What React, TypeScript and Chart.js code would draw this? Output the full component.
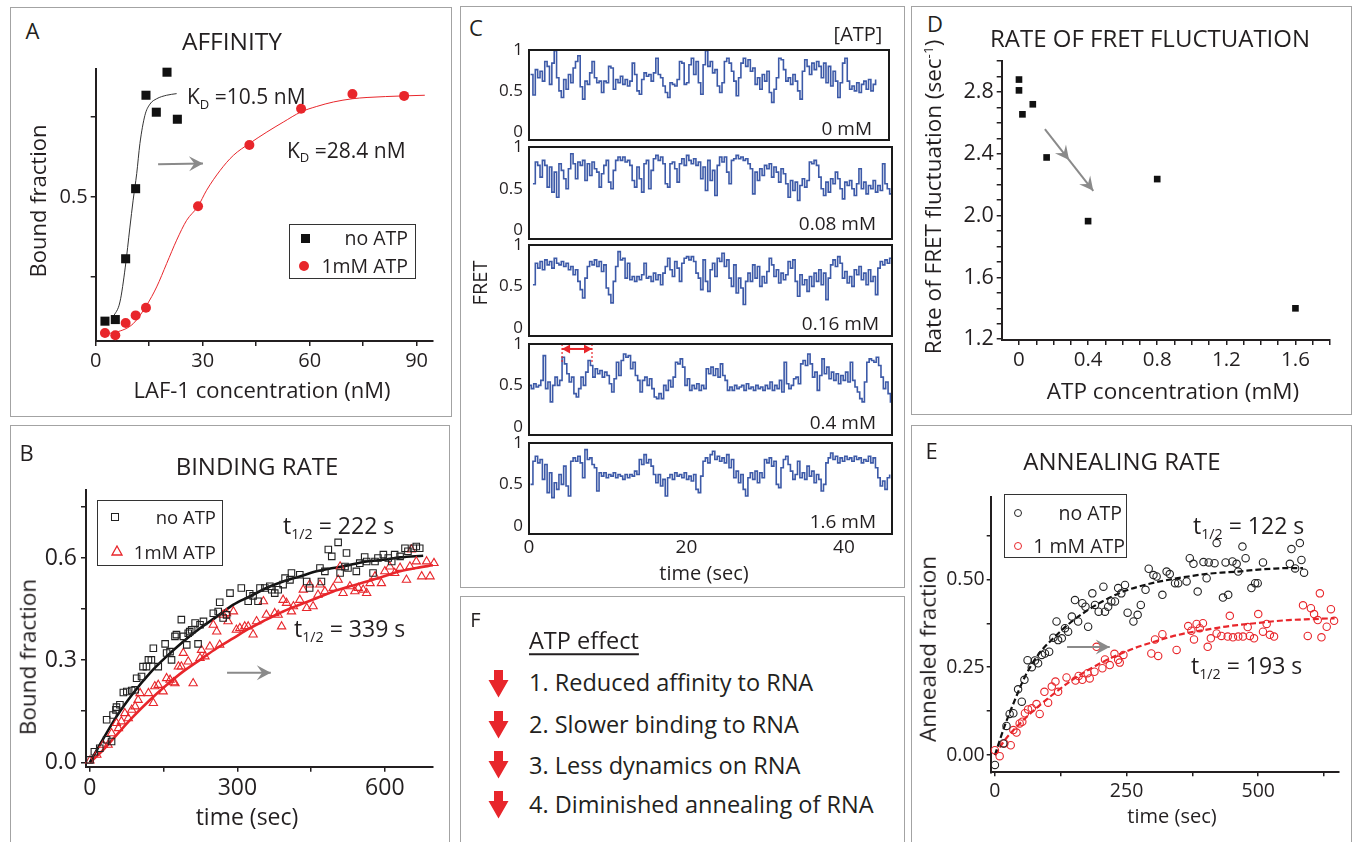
import React, { useEffect, useRef } from "react";
import { Chart, registerables } from "chart.js";
Chart.register(...registerables);

const FONT = "'Open Sans', 'DejaVu Sans', sans-serif";
const INK = "#231f20";
const RED = "#e8262b";
const BLUE = "#3d5aa8";
const GRAY = "#8a8a8a";

// ---------- Panel A : affinity ----------
const A_NOATP_X = [2.6, 5.5, 8.4, 11.2, 14.1, 17.0, 20.0, 22.9];
const A_NOATP_Y = [0.112, 0.117, 0.307, 0.526, 0.818, 0.765, 0.89, 0.743];
const A_ATP_X = [2.6, 5.5, 8.4, 11.2, 14.1, 28.7, 43.1, 57.6, 72.0, 86.5];
const A_ATP_Y = [0.075, 0.068, 0.106, 0.13, 0.154, 0.471, 0.6625, 0.776, 0.822, 0.816];
const A_FIT_NOATP_X = [4.9, 6.8, 8.3, 9.6, 10.5, 11.5, 12.4, 13.8, 15.2, 17.1, 19.9, 22.7];
const A_FIT_NOATP_Y = [0.125, 0.172, 0.281, 0.406, 0.49, 0.573, 0.667, 0.755, 0.79, 0.807, 0.818, 0.823];
const A_FIT_ATP_X = [2.6, 5.9, 10.5, 14.3, 17.1, 19.9, 22.7, 25.5, 28.7, 31.1, 34.9, 38.6, 43.1, 48.0, 52.6, 57.6, 62.0, 66.7, 72.0, 76.1, 86.5, 92.3];
const A_FIT_ATP_Y = [0.073, 0.078, 0.104, 0.162, 0.219, 0.292, 0.365, 0.427, 0.471, 0.521, 0.583, 0.63, 0.667, 0.703, 0.734, 0.766, 0.783, 0.797, 0.807, 0.811, 0.816, 0.818];
const A_X_TICKS = [0, 15, 30, 45, 60, 75, 90];
const A_X_LABELS = [0, 30, 60, 90];
const A_Y_TICKS = [0.25, 0.5, 0.75];
const A_Y_LABELS = [0.5];

// ---------- Panel B : binding rate ----------
const B_NOATP_X = [0, 9, 20, 34, 44, 34, 47, 53, 54, 61, 68, 75, 85, 92, 95, 105, 108, 115, 119, 125, 129, 139, 153, 156, 163, 166, 173, 176, 186, 190, 197, 200, 203, 207, 214, 220, 224, 231, 251, 261, 264, 271, 278, 285, 308, 322, 325, 332, 342, 346, 356, 366, 370, 376, 383, 393, 397, 407, 410, 427, 441, 447, 468, 471, 478, 485, 492, 505, 522, 509, 519, 525, 542, 549, 559, 563, 576, 580, 586, 597, 607, 614, 620, 631, 641, 647, 658, 664, 671];
const B_NOATP_Y = [0.007, 0.031, 0.041, 0.066, 0.061, 0.125, 0.139, 0.154, 0.162, 0.169, 0.205, 0.208, 0.211, 0.213, 0.247, 0.252, 0.281, 0.281, 0.301, 0.301, 0.335, 0.281, 0.348, 0.321, 0.325, 0.301, 0.37, 0.375, 0.419, 0.37, 0.345, 0.379, 0.384, 0.389, 0.409, 0.348, 0.404, 0.414, 0.438, 0.443, 0.47, 0.424, 0.433, 0.497, 0.512, 0.473, 0.495, 0.489, 0.473, 0.512, 0.512, 0.517, 0.507, 0.497, 0.507, 0.522, 0.541, 0.536, 0.556, 0.551, 0.531, 0.512, 0.571, 0.531, 0.561, 0.625, 0.605, 0.646, 0.615, 0.556, 0.575, 0.571, 0.561, 0.585, 0.603, 0.59, 0.556, 0.59, 0.6, 0.61, 0.6, 0.59, 0.61, 0.605, 0.629, 0.62, 0.629, 0.634, 0.629];
const B_ATP_X = [0, 14, 27, 37, 44, 54, 58, 64, 71, 78, 85, 92, 98, 102, 119, 129, 132, 139, 149, 156, 163, 170, 173, 180, 186, 190, 200, 210, 224, 227, 234, 244, 251, 258, 264, 271, 278, 281, 292, 298, 305, 315, 322, 332, 339, 353, 359, 376, 383, 390, 393, 400, 410, 414, 427, 434, 441, 447, 454, 464, 468, 478, 495, 505, 509, 515, 529, 539, 546, 556, 563, 570, 580, 593, 600, 610, 620, 631, 644, 651, 654, 664, 675, 685, 692, 700];
const B_ATP_Y = [0.005, 0.022, 0.051, 0.051, 0.085, 0.115, 0.1, 0.12, 0.144, 0.129, 0.154, 0.164, 0.183, 0.203, 0.203, 0.174, 0.223, 0.227, 0.208, 0.247, 0.242, 0.235, 0.232, 0.281, 0.281, 0.321, 0.296, 0.232, 0.306, 0.33, 0.311, 0.34, 0.404, 0.384, 0.345, 0.433, 0.438, 0.414, 0.443, 0.389, 0.394, 0.399, 0.399, 0.375, 0.414, 0.473, 0.433, 0.438, 0.433, 0.399, 0.477, 0.468, 0.443, 0.458, 0.477, 0.507, 0.453, 0.522, 0.458, 0.492, 0.522, 0.502, 0.512, 0.536, 0.575, 0.497, 0.517, 0.502, 0.512, 0.507, 0.497, 0.526, 0.546, 0.526, 0.561, 0.575, 0.556, 0.571, 0.536, 0.575, 0.625, 0.59, 0.546, 0.59, 0.546, 0.585];
const B_FIT_NOATP_X = [0, 20, 54, 88, 122, 156, 190, 224, 258, 292, 325, 359, 393, 427, 461, 495, 529, 563, 597, 631, 678];
const B_FIT_NOATP_Y = [0, 0.051, 0.134, 0.203, 0.262, 0.311, 0.355, 0.394, 0.428, 0.463, 0.487, 0.512, 0.531, 0.546, 0.561, 0.571, 0.58, 0.59, 0.595, 0.602, 0.607];
const B_FIT_ATP_X = [0, 20, 54, 88, 122, 156, 190, 224, 258, 292, 325, 359, 393, 427, 461, 495, 529, 563, 597, 631, 664, 698];
const B_FIT_ATP_Y = [0, 0.026, 0.08, 0.134, 0.183, 0.227, 0.267, 0.301, 0.335, 0.365, 0.394, 0.419, 0.443, 0.463, 0.482, 0.502, 0.517, 0.531, 0.546, 0.561, 0.571, 0.579];
const B_X_TICKS = [0, 150, 300, 450, 600];
const B_X_LABELS = [0, 300, 600];
const B_Y_TICKS = [0, 0.15, 0.3, 0.45, 0.6, 0.75];
const B_Y_LABELS = [0, 0.3, 0.6];

// ---------- Panel C : FRET traces ----------
const C_LABELS = ["0 mM", "0.08 mM", "0.16 mM", "0.4 mM", "1.6 mM"];
const C_T0 = [0.2, 0.5, 0.5, 0.0, 0.2];
const C_DT = 0.3;
const C_XMAX = [45.7, 46.1, 46.1, 46.1, 46.1];
const C_Y_TICKS = [0, 0.5, 1];
const C_X_TICKS = [0, 20, 40];
const TRACE_0 = [0.70, 0.45, 0.76, 0.66, 0.74, 0.62, 0.86, 0.80, 0.58, 0.84, 0.99, 0.66, 0.50, 0.42, 0.64, 0.52, 0.70, 0.60, 0.78, 0.86, 0.93, 0.55, 0.40, 0.62, 0.58, 0.72, 0.86, 0.66, 0.60, 0.62, 0.48, 0.62, 0.60, 0.80, 0.78, 0.52, 0.64, 0.60, 0.68, 0.58, 0.64, 0.56, 0.62, 0.84, 0.70, 0.50, 0.46, 0.64, 0.72, 0.68, 0.70, 0.62, 0.72, 0.90, 0.70, 0.66, 0.56, 0.48, 0.42, 0.60, 0.58, 0.56, 0.64, 0.86, 0.84, 0.58, 0.60, 0.82, 0.90, 0.70, 0.86, 0.60, 0.46, 0.82, 0.99, 0.80, 0.86, 0.72, 0.76, 0.56, 0.48, 0.60, 0.86, 0.90, 0.84, 0.74, 0.62, 0.44, 0.66, 0.84, 0.90, 0.80, 0.88, 0.74, 0.78, 0.58, 0.66, 0.52, 0.70, 0.62, 0.74, 0.48, 0.36, 0.52, 0.66, 0.90, 0.88, 0.76, 0.62, 0.66, 0.58, 0.70, 0.62, 0.50, 0.40, 0.74, 0.88, 0.80, 0.70, 0.84, 0.76, 0.86, 0.80, 0.66, 0.84, 0.60, 0.80, 0.56, 0.74, 0.62, 0.42, 0.60, 0.84, 0.90, 0.62, 0.52, 0.56, 0.50, 0.60, 0.48, 0.58, 0.62, 0.52, 0.64, 0.50, 0.58, 0.64];
const TRACE_008 = [0.56, 0.82, 0.78, 0.64, 0.84, 0.78, 0.52, 0.76, 0.46, 0.70, 0.40, 0.80, 0.72, 0.62, 0.50, 0.74, 0.92, 0.80, 0.62, 0.82, 0.78, 0.84, 0.60, 0.80, 0.66, 0.82, 0.74, 0.70, 0.52, 0.68, 0.78, 0.84, 0.58, 0.50, 0.72, 0.84, 0.88, 0.84, 0.88, 0.82, 0.84, 0.78, 0.60, 0.52, 0.76, 0.62, 0.46, 0.80, 0.84, 0.50, 0.72, 0.86, 0.90, 0.84, 0.88, 0.80, 0.56, 0.52, 0.80, 0.82, 0.74, 0.58, 0.80, 0.86, 0.78, 0.90, 0.84, 0.80, 0.86, 0.78, 0.82, 0.62, 0.76, 0.48, 0.84, 0.60, 0.72, 0.42, 0.78, 0.88, 0.82, 0.88, 0.70, 0.56, 0.84, 0.86, 0.90, 0.86, 0.88, 0.84, 0.86, 0.80, 0.74, 0.44, 0.70, 0.60, 0.74, 0.66, 0.78, 0.74, 0.80, 0.64, 0.76, 0.70, 0.58, 0.74, 0.68, 0.56, 0.40, 0.60, 0.48, 0.58, 0.36, 0.54, 0.62, 0.52, 0.60, 0.82, 0.80, 0.84, 0.78, 0.64, 0.50, 0.42, 0.58, 0.46, 0.62, 0.56, 0.70, 0.62, 0.50, 0.38, 0.58, 0.54, 0.60, 0.50, 0.42, 0.56, 0.74, 0.50, 0.58, 0.44, 0.54, 0.50, 0.60, 0.46, 0.54, 0.48, 0.80, 0.56, 0.50, 0.44, 0.52, 0.42, 0.62];
const TRACE_016 = [0.52, 0.78, 0.72, 0.80, 0.70, 0.82, 0.76, 0.80, 0.72, 0.84, 0.78, 0.76, 0.80, 0.74, 0.78, 0.70, 0.74, 0.64, 0.70, 0.56, 0.46, 0.36, 0.60, 0.74, 0.80, 0.76, 0.82, 0.74, 0.80, 0.68, 0.76, 0.48, 0.40, 0.30, 0.56, 0.74, 0.92, 0.82, 0.84, 0.60, 0.78, 0.58, 0.62, 0.56, 0.62, 0.58, 0.64, 0.78, 0.60, 0.62, 0.56, 0.66, 0.58, 0.64, 0.52, 0.66, 0.74, 0.84, 0.70, 0.62, 0.80, 0.72, 0.56, 0.78, 0.84, 0.86, 0.82, 0.86, 0.80, 0.66, 0.60, 0.46, 0.82, 0.56, 0.44, 0.70, 0.78, 0.62, 0.84, 0.80, 0.90, 0.74, 0.82, 0.60, 0.50, 0.76, 0.42, 0.60, 0.48, 0.28, 0.56, 0.66, 0.56, 0.76, 0.60, 0.74, 0.50, 0.62, 0.54, 0.68, 0.84, 0.76, 0.62, 0.70, 0.54, 0.66, 0.58, 0.64, 0.80, 0.72, 0.82, 0.56, 0.38, 0.64, 0.52, 0.58, 0.44, 0.62, 0.50, 0.66, 0.56, 0.70, 0.52, 0.66, 0.34, 0.60, 0.76, 0.82, 0.74, 0.86, 0.78, 0.60, 0.68, 0.54, 0.62, 0.50, 0.70, 0.64, 0.74, 0.58, 0.66, 0.52, 0.70, 0.56, 0.62, 0.40, 0.72, 0.80, 0.76, 0.82, 0.78, 0.84, 0.82];
const TRACE_04 = [0.50, 0.46, 0.52, 0.48, 0.50, 0.56, 0.86, 0.46, 0.54, 0.30, 0.50, 0.60, 0.50, 0.56, 0.84, 0.76, 0.64, 0.54, 0.60, 0.40, 0.36, 0.46, 0.60, 0.50, 0.66, 0.80, 0.74, 0.60, 0.70, 0.64, 0.68, 0.60, 0.66, 0.62, 0.52, 0.42, 0.58, 0.78, 0.62, 0.80, 0.88, 0.84, 0.86, 0.70, 0.78, 0.62, 0.56, 0.42, 0.56, 0.60, 0.50, 0.58, 0.46, 0.36, 0.34, 0.40, 0.34, 0.50, 0.44, 0.56, 0.48, 0.60, 0.78, 0.76, 0.82, 0.72, 0.50, 0.58, 0.44, 0.50, 0.46, 0.52, 0.44, 0.50, 0.46, 0.70, 0.64, 0.72, 0.62, 0.70, 0.60, 0.76, 0.62, 0.56, 0.44, 0.48, 0.44, 0.50, 0.46, 0.48, 0.50, 0.44, 0.52, 0.46, 0.48, 0.44, 0.50, 0.46, 0.48, 0.44, 0.50, 0.46, 0.54, 0.44, 0.50, 0.46, 0.56, 0.42, 0.78, 0.52, 0.46, 0.50, 0.58, 0.60, 0.52, 0.76, 0.80, 0.74, 0.88, 0.76, 0.60, 0.66, 0.44, 0.62, 0.82, 0.64, 0.72, 0.58, 0.66, 0.56, 0.64, 0.52, 0.62, 0.56, 0.66, 0.54, 0.78, 0.56, 0.48, 0.42, 0.34, 0.30, 0.54, 0.78, 0.82, 0.80, 0.78, 0.84, 0.74, 0.60, 0.46, 0.54, 0.40, 0.30, 0.48];
const TRACE_16 = [0.50, 0.78, 0.84, 0.76, 0.80, 0.56, 0.74, 0.40, 0.64, 0.34, 0.52, 0.44, 0.62, 0.50, 0.72, 0.48, 0.36, 0.78, 0.82, 0.78, 0.84, 0.76, 0.58, 0.92, 0.80, 0.82, 0.74, 0.70, 0.42, 0.64, 0.60, 0.64, 0.58, 0.62, 0.60, 0.64, 0.58, 0.62, 0.60, 0.56, 0.62, 0.58, 0.62, 0.60, 0.66, 0.62, 0.80, 0.74, 0.86, 0.76, 0.80, 0.72, 0.62, 0.52, 0.62, 0.48, 0.56, 0.36, 0.58, 0.62, 0.56, 0.64, 0.60, 0.62, 0.58, 0.64, 0.56, 0.60, 0.54, 0.62, 0.44, 0.40, 0.60, 0.78, 0.82, 0.76, 0.86, 0.90, 0.80, 0.84, 0.78, 0.82, 0.76, 0.86, 0.70, 0.80, 0.58, 0.66, 0.52, 0.62, 0.44, 0.36, 0.58, 0.64, 0.56, 0.66, 0.52, 0.64, 0.58, 0.80, 0.76, 0.82, 0.72, 0.78, 0.50, 0.46, 0.70, 0.80, 0.84, 0.74, 0.66, 0.56, 0.62, 0.78, 0.58, 0.64, 0.56, 0.72, 0.60, 0.66, 0.52, 0.62, 0.56, 0.42, 0.50, 0.76, 0.82, 0.88, 0.80, 0.84, 0.76, 0.82, 0.78, 0.84, 0.80, 0.82, 0.78, 0.84, 0.80, 0.82, 0.76, 0.80, 0.78, 0.84, 0.76, 0.82, 0.70, 0.58, 0.48, 0.54, 0.44, 0.58, 0.62];
const TRACES = [TRACE_0, TRACE_008, TRACE_016, TRACE_04, TRACE_16];

// ---------- Panel D : rate of FRET fluctuation ----------
const D_X = [0, 0, 0.02, 0.08, 0.16, 0.4, 0.8, 1.6];
const D_Y = [2.88, 2.81, 2.655, 2.72, 2.376, 1.964, 2.236, 1.4];
const D_X_TICKS = [0, 0.1, 0.2, 0.3, 0.4, 0.5, 0.6, 0.7, 0.8, 0.9, 1.0, 1.1, 1.2, 1.3, 1.4, 1.5, 1.6, 1.7, 1.8];
const D_X_LABELS = [0, 0.4, 0.8, 1.2, 1.6];
const D_Y_TICKS = [1.2, 1.3, 1.4, 1.5, 1.6, 1.7, 1.8, 1.9, 2.0, 2.1, 2.2, 2.3, 2.4, 2.5, 2.6, 2.7, 2.8, 2.9, 3.0];
const D_Y_LABELS = [1.2, 1.6, 2.0, 2.4, 2.8];

// ---------- Panel E : annealing rate ----------
const E_NOATP_X = [0, 16, 22, 28, 35, 44, 51, 56, 62, 70, 76, 82, 89, 95, 103, 111, 117, 120, 127, 133, 139, 146, 152, 158, 166, 172, 177, 185, 190, 197, 206, 209, 215, 221, 228, 234, 240, 247, 252, 263, 271, 277, 286, 292, 301, 307, 318, 326, 332, 342, 348, 364, 370, 377, 385, 396, 402, 406, 417, 421, 438, 433, 443, 451, 459, 462, 470, 476, 487, 494, 499, 509, 560, 563, 570, 579, 582, 587];
const E_NOATP_Y = [-0.028, 0.033, 0.083, 0.117, 0.119, 0.187, 0.152, 0.214, 0.27, 0.25, 0.269, 0.261, 0.285, 0.289, 0.294, 0.334, 0.38, 0.327, 0.332, 0.361, 0.351, 0.394, 0.441, 0.38, 0.432, 0.422, 0.365, 0.46, 0.427, 0.408, 0.479, 0.408, 0.422, 0.437, 0.437, 0.475, 0.46, 0.484, 0.405, 0.38, 0.399, 0.427, 0.47, 0.53, 0.512, 0.508, 0.456, 0.522, 0.515, 0.489, 0.489, 0.494, 0.56, 0.544, 0.465, 0.549, 0.503, 0.548, 0.546, 0.603, 0.548, 0.448, 0.456, 0.551, 0.544, 0.522, 0.593, 0.56, 0.475, 0.489, 0.489, 0.548, 0.544, 0.586, 0.531, 0.603, 0.555, 0.519];
const E_ATP_X = [0, 9, 18, 30, 35, 41, 47, 52, 57, 63, 70, 79, 85, 94, 101, 108, 115, 120, 136, 153, 159, 166, 176, 180, 189, 193, 204, 209, 218, 227, 234, 237, 244, 297, 304, 310, 318, 345, 367, 373, 378, 383, 389, 395, 404, 410, 421, 430, 442, 446, 452, 462, 471, 480, 484, 492, 500, 509, 516, 522, 530, 585, 594, 600, 606, 613, 617, 620, 630, 638, 644];
const E_ATP_Y = [0.014, -0.003, 0.033, 0.028, 0.071, 0.064, 0.09, 0.095, 0.119, 0.13, 0.133, 0.145, 0.117, 0.18, 0.149, 0.195, 0.209, 0.18, 0.221, 0.212, 0.225, 0.214, 0.233, 0.218, 0.237, 0.308, 0.247, 0.272, 0.256, 0.288, 0.271, 0.263, 0.285, 0.289, 0.329, 0.282, 0.344, 0.299, 0.367, 0.354, 0.329, 0.373, 0.361, 0.375, 0.308, 0.332, 0.346, 0.339, 0.337, 0.396, 0.335, 0.337, 0.337, 0.364, 0.339, 0.332, 0.401, 0.351, 0.373, 0.342, 0.337, 0.426, 0.339, 0.418, 0.401, 0.384, 0.46, 0.335, 0.365, 0.415, 0.382];
const E_FIT_NOATP_X = [0, 19, 38, 57, 82, 114, 146, 177, 209, 240, 272, 304, 335, 367, 399, 430, 462, 494, 525, 557, 585];
const E_FIT_NOATP_Y = [0, 0.085, 0.157, 0.223, 0.285, 0.337, 0.38, 0.413, 0.441, 0.463, 0.479, 0.491, 0.5, 0.508, 0.515, 0.519, 0.522, 0.527, 0.53, 0.532, 0.532];
const E_FIT_ATP_X = [0, 19, 51, 82, 114, 146, 177, 209, 240, 272, 304, 335, 367, 399, 430, 462, 494, 525, 557, 589, 620, 645];
const E_FIT_ATP_Y = [0, 0.043, 0.095, 0.138, 0.177, 0.213, 0.242, 0.268, 0.289, 0.308, 0.323, 0.337, 0.348, 0.356, 0.364, 0.37, 0.375, 0.38, 0.384, 0.386, 0.388, 0.389];
const E_X_TICKS = [0, 125, 250, 375, 500, 625];
const E_X_LABELS = [0, 250, 500];
const E_Y_TICKS = [0, 0.125, 0.25, 0.375, 0.5, 0.625];
const E_Y_LABELS = [0, 0.25, 0.5];

// ---------- Panel F ----------
const F_ITEMS = ["1. Reduced affinity to RNA", "2. Slower binding to RNA", "3. Less dynamics on RNA", "4. Diminished annealing of RNA"];

// ---------- helpers ----------
const pts = (xs: number[], ys: number[]) => xs.map((x, i) => ({ x, y: ys[i] }));
const tracePts = (t0: number, dt: number, vals: number[]) => vals.map((v, i) => ({ x: t0 + dt * i, y: v }));
const near = (v: number, list: number[]) => list.some((t) => Math.abs(v - t) < 1e-6);

type AxisP = {
  min: number; max: number; ticks: number[]; labels: number[]; fmt: (v: number) => string;
  size: number; fit: number; vertical: boolean; tickLen?: number; pad?: number; marks?: boolean; line?: boolean; display?: boolean;
};
function axis(p: AxisP) {
  const marks = p.marks !== false;
  const shown = p.display !== false;
  return {
    type: "linear",
    display: shown,
    min: p.min,
    max: p.max,
    afterBuildTicks: (s: any) => { s.ticks = p.ticks.map((v) => ({ value: v })); },
    afterFit: (s: any) => {
      if (!shown) return;
      if (p.vertical) s.width = p.fit; else s.height = p.fit;
    },
    ticks: {
      autoSkip: false, maxRotation: 0, minRotation: 0, padding: p.pad ?? 3, color: INK,
      font: { family: FONT, size: p.size },
      callback: (v: number) => (near(v, p.labels) ? p.fmt(v) : ""),
    },
    grid: { display: marks, drawOnChartArea: false, drawTicks: marks, tickLength: p.tickLen ?? 5, color: INK, lineWidth: 1.5 },
    border: { display: p.line !== false, color: INK, width: 2 },
  };
}

type Arrow = {
  from: [number, number]; to: [number, number]; color: string; width: number;
  heads?: { t: number; dir: number }[]; len?: number; half?: number; notch?: number; dash?: number[];
};
function arrowPlugin(items: Arrow[]) {
  return {
    id: "arrows",
    afterDatasetsDraw(chart: any) {
      const xs = chart.scales.x, ys = chart.scales.y, ctx = chart.ctx;
      for (const a of items) {
        const x1 = xs.getPixelForValue(a.from[0]), y1 = ys.getPixelForValue(a.from[1]);
        const x2 = xs.getPixelForValue(a.to[0]), y2 = ys.getPixelForValue(a.to[1]);
        ctx.save();
        ctx.strokeStyle = a.color; ctx.fillStyle = a.color; ctx.lineWidth = a.width;
        ctx.setLineDash(a.dash || []);
        ctx.beginPath(); ctx.moveTo(x1, y1); ctx.lineTo(x2, y2); ctx.stroke();
        ctx.setLineDash([]);
        const L = Math.hypot(x2 - x1, y2 - y1) || 1;
        const ux = (x2 - x1) / L, uy = (y2 - y1) / L;
        for (const h of a.heads || []) {
          const tx = x1 + (x2 - x1) * h.t, ty = y1 + (y2 - y1) * h.t;
          const dx = ux * h.dir, dy = uy * h.dir;
          const len = a.len ?? 14, half = a.half ?? 7, notch = a.notch ?? 0.62;
          const bx = tx - dx * len, by = ty - dy * len, nx = -dy, ny = dx;
          ctx.beginPath();
          ctx.moveTo(tx, ty);
          ctx.lineTo(bx + nx * half, by + ny * half);
          ctx.lineTo(tx - dx * len * notch, ty - dy * len * notch);
          ctx.lineTo(bx - nx * half, by - ny * half);
          ctx.closePath(); ctx.fill();
        }
        ctx.restore();
      }
    },
  };
}
const framePlugin = {
  id: "frame",
  afterDraw(chart: any) {
    const { left, top, right, bottom } = chart.chartArea;
    const ctx = chart.ctx;
    ctx.save(); ctx.strokeStyle = "#1a1a1a"; ctx.lineWidth = 2;
    ctx.strokeRect(left, top, right - left, bottom - top);
    ctx.restore();
  },
};

function cfg(datasets: any[], scales: any, padding: any, plugins: any[] = []) {
  return {
    type: "scatter",
    data: { datasets },
    options: {
      responsive: false, animation: false, events: [],
      layout: { padding },
      plugins: { legend: { display: false }, tooltip: { enabled: false } },
      scales,
    },
    plugins,
  };
}
const fitLine = (data: any[], color: string, width: number, dash?: number[]) => ({
  data, showLine: true, pointRadius: 0, borderColor: color, borderWidth: width, borderDash: dash || [],
  cubicInterpolationMode: "monotone", fill: false,
});
const marks = (data: any[], style: string, r: number, fillC: string, strokeC: string, bw: number) => ({
  data, showLine: false, pointStyle: style, pointRadius: r, pointBackgroundColor: fillC,
  pointBorderColor: strokeC, pointBorderWidth: bw, clip: false,
});

// ---------- chart builders ----------
function buildA() {
  return cfg(
    [
      marks(pts(A_NOATP_X, A_NOATP_Y), "rect", 6.4, "#111", "#111", 0),
      marks(pts(A_ATP_X, A_ATP_Y), "circle", 5, RED, RED, 0),
      fitLine(pts(A_FIT_NOATP_X, A_FIT_NOATP_Y), "#333", 1),
      fitLine(pts(A_FIT_ATP_X, A_FIT_ATP_Y), RED, 1),
    ],
    {
      x: axis({ min: 0, max: 94.6, ticks: A_X_TICKS, labels: A_X_LABELS, fmt: (v) => String(v), size: 20, fit: 34, vertical: false }),
      y: axis({ min: 0.05, max: 0.9, ticks: A_Y_TICKS, labels: A_Y_LABELS, fmt: () => "0.5", size: 20, fit: 40, vertical: true }),
    },
    { left: 43.7, top: 20, right: 15, bottom: 15 },
    [arrowPlugin([{ from: [17.5, 0.602], to: [30.1, 0.605], color: GRAY, width: 2, heads: [{ t: 1, dir: 1 }], len: 14, half: 7.5 }])]
  );
}
function buildB() {
  return cfg(
    [
      marks(pts(B_NOATP_X, B_NOATP_Y), "rect", 4.6, "rgba(0,0,0,0)", "#222", 1.1),
      marks(pts(B_ATP_X, B_ATP_Y), "triangle", 4.8, "rgba(0,0,0,0)", RED, 1.1),
      fitLine(pts(B_FIT_NOATP_X, B_FIT_NOATP_Y), "#111", 2.6),
      fitLine(pts(B_FIT_ATP_X, B_FIT_ATP_Y), RED, 2.6),
    ],
    {
      x: axis({ min: -8, max: 698, ticks: B_X_TICKS, labels: B_X_LABELS, fmt: (v) => String(v), size: 23, fit: 36, vertical: false, pad: 3 }),
      y: axis({ min: -0.013, max: 0.8, ticks: B_Y_TICKS, labels: B_Y_LABELS, fmt: (v) => v.toFixed(1), size: 23, fit: 45, vertical: true, pad: 4 }),
    },
    { left: 29, top: 20, right: 15, bottom: 15.3 },
    [arrowPlugin([{ from: [279, 0.263], to: [368, 0.263], color: GRAY, width: 2, heads: [{ t: 1, dir: 1 }], len: 14, half: 7.5 }])]
  );
}
function buildC(i: number, box: number[]) {
  const last = i === TRACES.length - 1;
  return cfg(
    [{
      data: tracePts(C_T0[i], C_DT, TRACES[i]), showLine: true, pointRadius: 0, borderColor: BLUE,
      borderWidth: 1.6, fill: false, stepped: true,
    }],
    {
      x: axis({ min: 0, max: C_XMAX[i], ticks: C_X_TICKS, labels: C_X_TICKS, fmt: (v) => String(v), size: 19, fit: 30, vertical: false, marks: false, line: false, display: last, pad: 2 }),
      y: axis({ min: -0.1, max: 1.0, ticks: C_Y_TICKS, labels: C_Y_TICKS, fmt: (v) => (v === 0.5 ? "0.5" : String(v)), size: 17, fit: 38, vertical: true, marks: false, line: false, pad: 6 }),
    },
    { left: 6, top: 18, right: 900 - box[2], bottom: last ? 4 : 18 },
    i === 3
      ? [framePlugin, arrowPlugin([
          { from: [4.2, 1.0], to: [4.2, 0.76], color: RED, width: 1.2, dash: [2, 2] },
          { from: [8.0, 1.0], to: [8.0, 0.76], color: RED, width: 1.2, dash: [2, 2] },
          { from: [4.2, 0.94], to: [8.0, 0.94], color: RED, width: 2, heads: [{ t: 0, dir: -1 }, { t: 1, dir: 1 }], len: 8, half: 4.5, notch: 1 },
        ])]
      : [framePlugin]
  );
}
function buildD() {
  return cfg(
    [marks(pts(D_X, D_Y), "rect", 4.7, "#111", "#111", 0)],
    {
      x: axis({ min: -0.1, max: 1.8, ticks: D_X_TICKS, labels: D_X_LABELS, fmt: (v) => (Math.abs(v) < 1e-9 ? "0" : v.toFixed(1)), size: 20.5, fit: 34, vertical: false }),
      y: axis({ min: 1.195, max: 3.0, ticks: D_Y_TICKS, labels: D_Y_LABELS, fmt: (v) => v.toFixed(1), size: 21.5, fit: 48, vertical: true }),
    },
    { left: 39.7, top: 20, right: 18, bottom: 21 },
    [arrowPlugin([{ from: [0.15, 2.56], to: [0.43, 2.16], color: GRAY, width: 2, heads: [{ t: 0.5, dir: 1 }, { t: 1, dir: 1 }], len: 14, half: 7 }])]
  );
}
function buildE() {
  return cfg(
    [
      marks(pts(E_NOATP_X, E_NOATP_Y), "circle", 3.7, "rgba(0,0,0,0)", "#222", 1.1),
      marks(pts(E_ATP_X, E_ATP_Y), "circle", 3.7, "rgba(0,0,0,0)", RED, 1.1),
      fitLine(pts(E_FIT_NOATP_X, E_FIT_NOATP_Y), "#111", 2.2, [6, 3]),
      fitLine(pts(E_FIT_ATP_X, E_FIT_ATP_Y), RED, 2.2, [6, 3]),
    ],
    {
      x: axis({ min: -8, max: 652, ticks: E_X_TICKS, labels: E_X_LABELS, fmt: (v) => String(v), size: 19.5, fit: 34, vertical: false, tickLen: 4 }),
      y: axis({ min: -0.049, max: 0.735, ticks: E_Y_TICKS, labels: E_Y_LABELS, fmt: (v) => v.toFixed(2), size: 19.5, fit: 48, vertical: true, tickLen: 4, pad: 2 }),
    },
    { left: 28.7, top: 20.7, right: 9.7, bottom: 14.7 },
    [arrowPlugin([{ from: [137, 0.3075], to: [218, 0.3075], color: GRAY, width: 2, heads: [{ t: 1, dir: 1 }], len: 14, half: 7.5 }])]
  );
}

// ---------- components ----------
function ChartCanvas({ left, top, width, height, build }: { left: number; top: number; width: number; height: number; build: () => any }) {
  const ref = useRef<HTMLCanvasElement>(null);
  useEffect(() => {
    const chart = new Chart(ref.current as HTMLCanvasElement, build());
    return () => chart.destroy();
  }, []);
  return <canvas ref={ref} width={width} height={height} style={{ position: "absolute", left, top, width, height }} />;
}

function Txt({ x, y, size, children, align = "center", rotate = false, style = {} }: any) {
  const tx = align === "center" ? "-50%" : align === "right" ? "-100%" : "0";
  return (
    <div
      style={{
        position: "absolute", left: x, top: y, fontFamily: FONT, fontSize: size, color: INK,
        lineHeight: 1, whiteSpace: "nowrap",
        transform: `translate(${tx}, -50%)` + (rotate ? " rotate(-90deg)" : ""),
        ...style,
      }}
    >
      {children}
    </div>
  );
}
const Sub = ({ children }: any) => (
  <span style={{ fontSize: "0.62em", position: "relative", top: "0.38em" }}>{children}</span>
);
function Panel({ l, t, w, h }: any) {
  return <div style={{ position: "absolute", left: l, top: t, width: w, height: h, border: "1.5px solid #a3a3a3", boxSizing: "border-box" }} />;
}
function LegendBox({ l, t, w, h }: any) {
  return <div style={{ position: "absolute", left: l, top: t, width: w, height: h, border: "1.5px solid #333", boxSizing: "border-box" }} />;
}
function Dot({ x, y, d, fillC, strokeC, bw, square }: any) {
  return (
    <div style={{
      position: "absolute", left: x - d / 2, top: y - d / 2, width: d, height: d, boxSizing: "border-box",
      background: fillC, border: bw ? `${bw}px solid ${strokeC}` : "none", borderRadius: square ? 0 : "50%",
    }} />
  );
}
function Tri({ x, y }: any) {
  return (
    <svg style={{ position: "absolute", left: x - 6, top: y - 6 }} width={12} height={12}>
      <polygon points="6,1 11,10 1,10" fill="none" stroke={RED} strokeWidth={1.3} />
    </svg>
  );
}
function DownArrow({ x, y }: any) {
  return (
    <svg style={{ position: "absolute", left: x, top: y }} width={21} height={28}>
      <polygon points="6,0 15,0 15,10 20.5,10 10.5,27.5 0.5,10 6,10" fill={RED} />
    </svg>
  );
}

const C_BOXES = [
  [529, 50, 889, 140],
  [529, 147, 892, 239],
  [529, 245, 892, 336],
  [529, 344, 892, 435],
  [529, 443, 892, 534],
];
const C_LABEL_POS = [[872, 128], [876, 223], [879, 323], [876, 422], [876, 521]];
const F_Y = [683, 725, 766, 805];
const F_ARROW_Y = [670, 711, 751, 791];

export default function App() {
  return (
    <div style={{ position: "absolute", left: 0, top: 0, width: 1358, height: 842, overflow: "hidden", background: "#fff" }}>
      {/* panel frames */}
      <Panel l={10} t={7} w={442} h={410} />
      <Panel l={10} t={425} w={440} h={440} />
      <Panel l={460} t={6} w={445} h={582} />
      <Panel l={460} t={596} w={445} h={260} />
      <Panel l={911} t={6} w={441} h={409} />
      <Panel l={911} t={425} w={441} h={440} />

      {/* ---------- A ---------- */}
      <ChartCanvas left={12} top={49} width={436} height={341} build={buildA} />
      <Txt x={32.5} y={30} size={22}>A</Txt>
      <Txt x={232} y={41} size={24.5}>AFFINITY</Txt>
      <Txt x={187} y={96} size={21} align="left">K<Sub>D</Sub> =10.5 nM</Txt>
      <Txt x={287} y={149.5} size={21} align="left">K<Sub>D</Sub> =28.4 nM</Txt>
      <Txt x={37} y={201} size={22} rotate>Bound fraction</Txt>
      <Txt x={262} y={389} size={22}>LAF-1 concentration (nM)</Txt>
      <LegendBox l={289} t={224} w={127} h={55} />
      <Dot x={305} y={238} d={9} fillC="#111" square />
      <Dot x={304} y={266} d={10} fillC={RED} />
      <Txt x={408} y={238} size={19.5} align="right">no ATP</Txt>
      <Txt x={408} y={266} size={19.5} align="right">1mM ATP</Txt>

      {/* ---------- B ---------- */}
      <ChartCanvas left={12} top={470} width={436} height={348} build={buildB} />
      <Txt x={26.5} y={451.5} size={22}>B</Txt>
      <Txt x={257} y={466} size={24}>BINDING RATE</Txt>
      <Txt x={28} y={657} size={22.5} rotate>Bound fraction</Txt>
      <Txt x={247} y={816} size={23}>time (sec)</Txt>
      <LegendBox l={97} t={500} w={126} h={66} />
      <Dot x={115} y={517} d={8} fillC="transparent" strokeC="#222" bw={1.3} square />
      <Tri x={117} y={551} />
      <Txt x={216} y={517} size={18.5} align="right">no ATP</Txt>
      <Txt x={216} y={552} size={18.5} align="right">1mM ATP</Txt>
      <Txt x={283} y={524.5} size={23} align="left">t<Sub>1/2</Sub> = 222 s</Txt>
      <Txt x={294} y={627.5} size={23} align="left">t<Sub>1/2</Sub> = 339 s</Txt>

      {/* ---------- C ---------- */}
      {C_BOXES.map((b, i) => {
        const last = i === C_BOXES.length - 1;
        const top = b[1] - 18;
        const height = b[3] - b[1] + 18 + (last ? 34 : 18);
        return <ChartCanvas key={i} left={485} top={top} width={415} height={height} build={() => buildC(i, b)} />;
      })}
      <Txt x={476} y={27} size={22}>C</Txt>
      <Txt x={858} y={34} size={20}>[ATP]</Txt>
      <Txt x={480} y={283} size={20} rotate>FRET</Txt>
      <Txt x={704} y={573} size={20}>time (sec)</Txt>
      {C_LABELS.map((s, i) => (
        <Txt key={s} x={C_LABEL_POS[i][0]} y={C_LABEL_POS[i][1]} size={19} align="right">{s}</Txt>
      ))}

      {/* ---------- F ---------- */}
      <Txt x={475.5} y={620} size={20}>F</Txt>
      <Txt x={529} y={641} size={23.5} align="left" style={{ textDecoration: "underline", textDecorationThickness: "1.5px", textUnderlineOffset: "4px" }}>ATP effect</Txt>
      {F_ITEMS.map((s, i) => (
        <React.Fragment key={s}>
          <DownArrow x={488} y={F_ARROW_Y[i]} />
          <Txt x={529} y={F_Y[i]} size={23.5} align="left">{s}</Txt>
        </React.Fragment>
      ))}

      {/* ---------- D ---------- */}
      <ChartCanvas left={914} top={41} width={434} height={354} build={buildD} />
      <Txt x={935} y={23} size={22}>D</Txt>
      <Txt x={1150} y={37.5} size={24}>RATE OF FRET FLUCTUATION</Txt>
      <Txt x={933} y={197} size={22.5} rotate>Rate of FRET fluctuation (sec<span style={{ fontSize: "0.6em", position: "relative", top: "-0.6em" }}>-1</span>)</Txt>
      <Txt x={1173} y={391} size={22.5}>ATP concentration (mM)</Txt>

      {/* ---------- E ---------- */}
      <ChartCanvas left={914} top={476} width={434} height={345} build={buildE} />
      <Txt x={931.5} y={449.5} size={22}>E</Txt>
      <Txt x={1122} y={461} size={24}>ANNEALING RATE</Txt>
      <Txt x={928} y={649} size={22.5} rotate>Annealed fraction</Txt>
      <Txt x={1172} y={816} size={20}>time (sec)</Txt>
      <LegendBox l={1004} t={494} w={123} h={64} />
      <Dot x={1018} y={513} d={8} fillC="transparent" strokeC="#222" bw={1.3} />
      <Dot x={1018} y={546} d={8} fillC="transparent" strokeC={RED} bw={1.3} />
      <Txt x={1122} y={513} size={19.5} align="right">no ATP</Txt>
      <Txt x={1125} y={546} size={19.5} align="right">1 mM ATP</Txt>
      <Txt x={1193} y={525} size={23} align="left">t<Sub>1/2</Sub> = 122 s</Txt>
      <Txt x={1191} y={665} size={23} align="left">t<Sub>1/2</Sub> = 193 s</Txt>
    </div>
  );
}
